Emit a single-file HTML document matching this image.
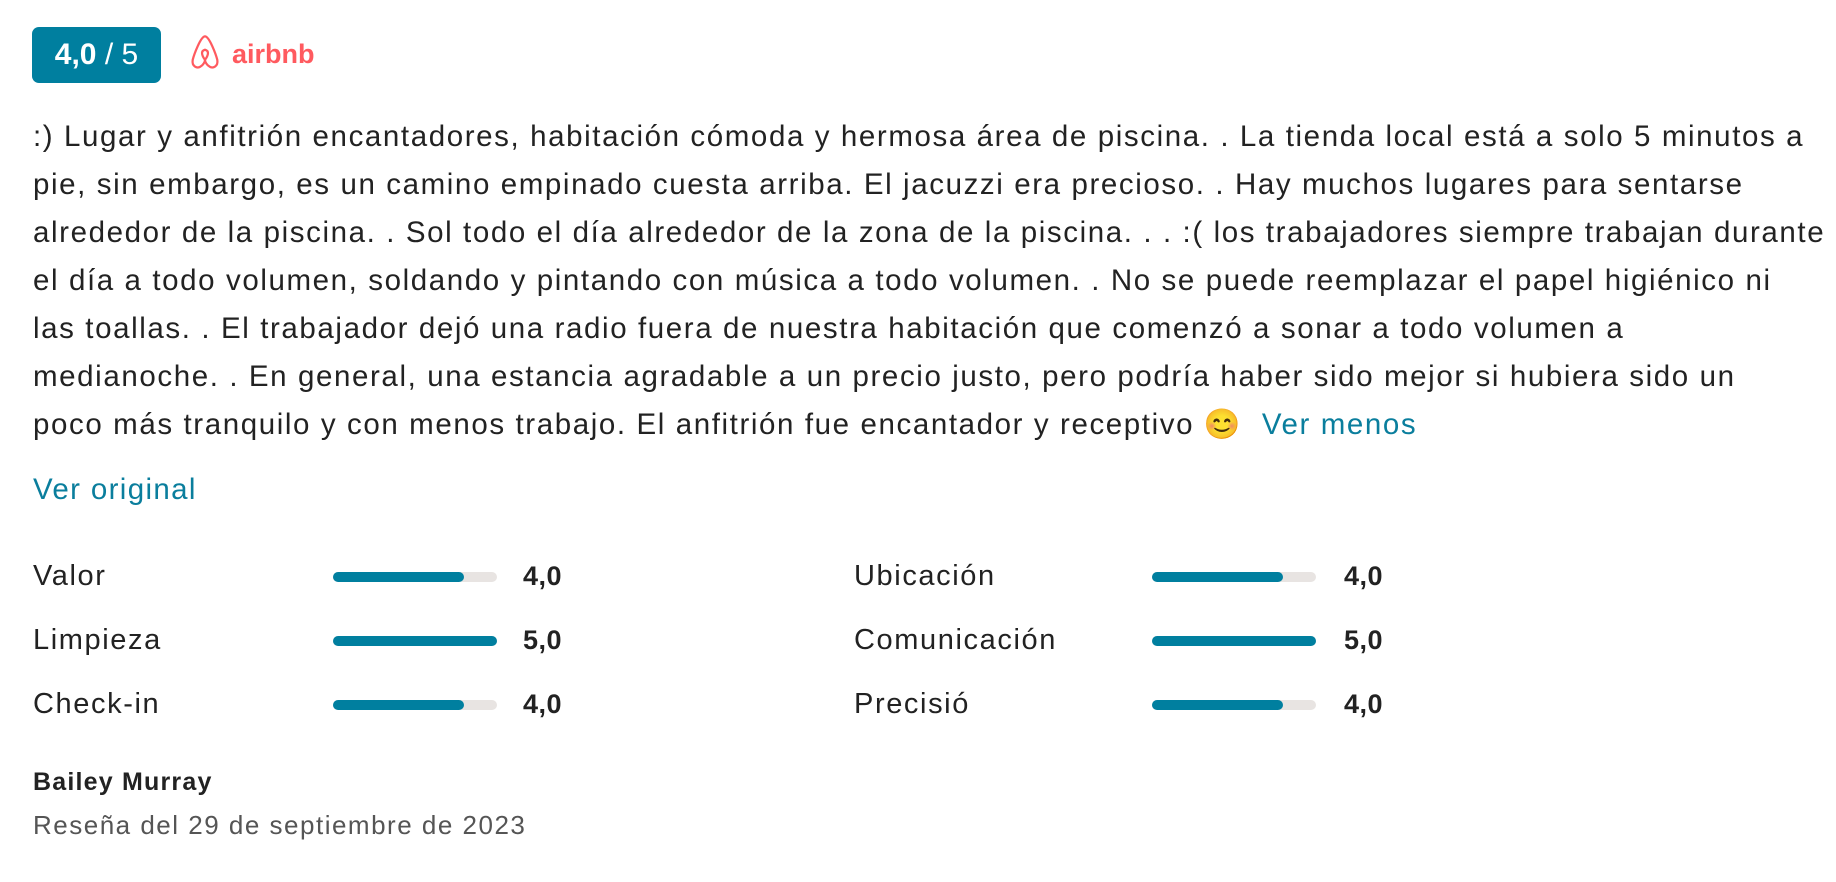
<!DOCTYPE html>
<html><head><meta charset="utf-8"><style>
body{margin:0;width:1836px;height:882px;background:#fff;font-family:"Liberation Sans",sans-serif;color:#222;position:relative;overflow:hidden}
.a{position:absolute;white-space:nowrap}
.badge{left:32px;top:27px;width:129px;height:56px;background:#007f9f;border-radius:7px;color:#fff;font-size:30px;line-height:56px;text-align:center}
.logo{left:190px;top:33px;color:#ff5a5f;font-weight:bold;font-size:27px}
.t{left:33px;font-size:29.5px;line-height:48px;letter-spacing:1.6px}
.lnk{color:#0a7e9d}
.lbl{font-size:29px;letter-spacing:1.6px}
.bar{height:10px;width:164px;background:#e8e4e2;border-radius:5px}
.bar i{display:block;height:10px;background:#007f9f;border-radius:5px}
.v{font-size:27px;font-weight:bold;letter-spacing:0.5px}
</style></head><body>
<div class="a badge"><b>4,0</b> / 5</div>
<div class="a logo"><svg width="30" height="38" viewBox="0 0 26 34" style="vertical-align:-8px;margin-right:12px"><path d="M13 3 C9 3 3 20 2 24 C1 30 6 32 9 30 C11 29 13 26 13 24 C13 26 15 29 17 30 C20 32 25 30 24 24 C23 20 17 3 13 3 Z M13 24 C10 20 9 16 13 15 C17 16 16 20 13 24 Z" fill="none" stroke="#ff5a5f" stroke-width="2"/></svg>airbnb</div>
<div class="a t" style="top:113px">:) Lugar y anfitrión encantadores, habitación cómoda y hermosa área de piscina. . La tienda local está a solo 5 minutos a</div>
<div class="a t" style="top:161px">pie, sin embargo, es un camino empinado cuesta arriba. El jacuzzi era precioso. . Hay muchos lugares para sentarse</div>
<div class="a t" style="top:209px">alrededor de la piscina. . Sol todo el día alrededor de la zona de la piscina. . . :( los trabajadores siempre trabajan durante</div>
<div class="a t" style="top:257px">el día a todo volumen, soldando y pintando con música a todo volumen. . No se puede reemplazar el papel higiénico ni</div>
<div class="a t" style="top:305px">las toallas. . El trabajador dejó una radio fuera de nuestra habitación que comenzó a sonar a todo volumen a</div>
<div class="a t" style="top:353px">medianoche. . En general, una estancia agradable a un precio justo, pero podría haber sido mejor si hubiera sido un</div>
<div class="a t" style="top:401px">poco más tranquilo y con menos trabajo. El anfitrión fue encantador y receptivo 😊&nbsp; <span class="lnk">Ver menos</span></div>
<div class="a t lnk" style="top:466px;letter-spacing:1.35px">Ver original</div>

<div class="a lbl" style="left:33px;top:560px">Valor</div>
<div class="a bar" style="left:333px;top:572px"><i style="width:131px"></i></div>
<div class="a v" style="left:523px;top:561px">4,0</div>
<div class="a lbl" style="left:33px;top:624px">Limpieza</div>
<div class="a bar" style="left:333px;top:636px"><i style="width:164px"></i></div>
<div class="a v" style="left:523px;top:625px">5,0</div>
<div class="a lbl" style="left:33px;top:688px">Check-in</div>
<div class="a bar" style="left:333px;top:700px"><i style="width:131px"></i></div>
<div class="a v" style="left:523px;top:689px">4,0</div>

<div class="a lbl" style="left:854px;top:560px">Ubicación</div>
<div class="a bar" style="left:1152px;top:572px"><i style="width:131px"></i></div>
<div class="a v" style="left:1344px;top:561px">4,0</div>
<div class="a lbl" style="left:854px;top:624px">Comunicación</div>
<div class="a bar" style="left:1152px;top:636px"><i style="width:164px"></i></div>
<div class="a v" style="left:1344px;top:625px">5,0</div>
<div class="a lbl" style="left:854px;top:688px">Precisió</div>
<div class="a bar" style="left:1152px;top:700px"><i style="width:131px"></i></div>
<div class="a v" style="left:1344px;top:689px">4,0</div>

<div class="a" style="left:33px;top:768px;font-size:25px;font-weight:bold;letter-spacing:1.2px">Bailey Murray</div>
<div class="a" style="left:33px;top:810px;font-size:26px;color:#555;letter-spacing:1.5px">Reseña del 29 de septiembre de 2023</div>
</body></html>
